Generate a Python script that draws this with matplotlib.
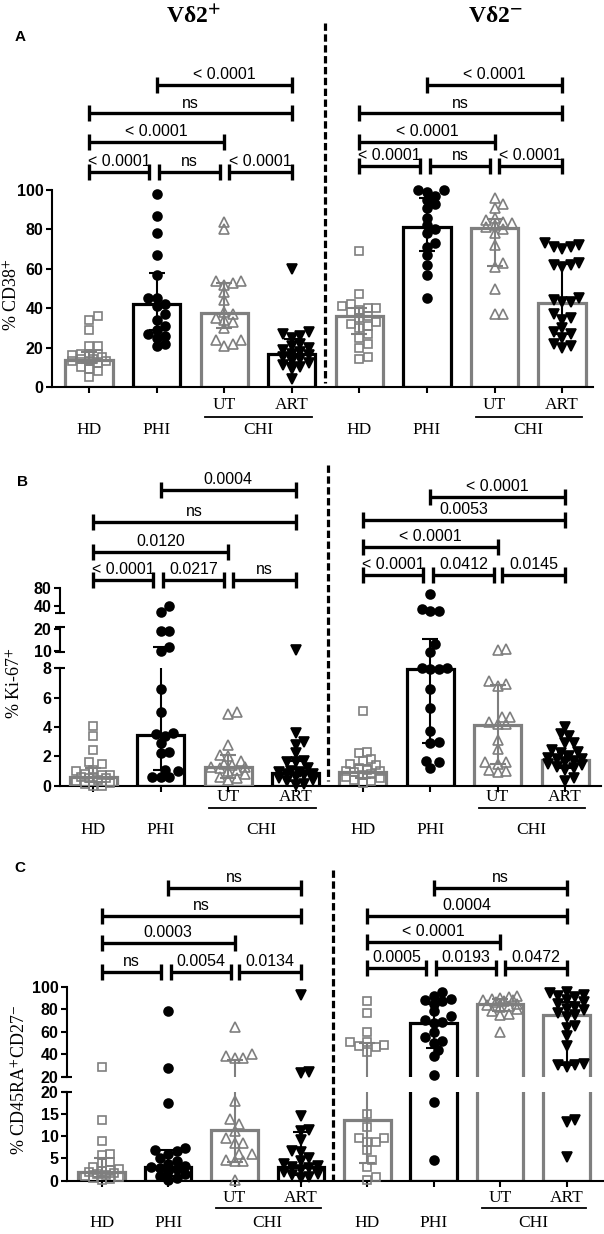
import numpy as np
import matplotlib
matplotlib.use('Agg')
import matplotlib.pyplot as plt
from matplotlib import transforms

plt.rcParams['font.family'] = 'Liberation Sans'
plt.rcParams['mathtext.fontset'] = 'stix'

W, H = 604, 1234
GRAY = '#7f7f7f'

# group order on the x axis: left half (Vd2+) then right half (Vd2-)
groups = ['HD', 'PHI', 'UT', 'ART', 'HD', 'PHI', 'UT', 'ART']
bar_cols = [GRAY, 'black', GRAY, 'black', GRAY, 'black', GRAY, GRAY]
err_cols = [GRAY, 'black', GRAY, 'black', GRAY, 'black', GRAY, 'black']

# panel A: % CD38+
a_hd = [36, 34, 29, 21, 21, 17, 17, 17, 16, 15, 14, 14, 13, 13, 13, 12, 10, 9, 8, 5]
a_phi = [98, 87, 78, 67, 57, 45, 45, 42, 41, 37, 34, 31, 29, 27, 26, 25, 22, 21]
a_ut = [84, 80, 54, 54, 53, 52, 48, 44, 38, 37, 35, 34, 33, 30, 24, 24, 22, 21]
a_art = [60, 28, 27, 26, 25, 22, 21, 20, 19, 18, 17, 16, 15, 14, 13, 12, 11, 10, 9, 4]
a_hd2 = [69, 47, 42, 41, 40, 40, 39, 38, 36, 35, 33, 32, 31, 30, 27, 25, 22, 20, 15, 14]
a_phi2 = [100, 100, 99, 97, 95, 93, 91, 86, 82, 80, 78, 73, 71, 67, 62, 57, 45]
a_ut2 = [96, 93, 91, 86, 85, 84, 83, 82, 81, 80, 78, 72, 63, 61, 50, 37, 37]
a_art2 = [73, 72, 71, 71, 70, 63, 62, 62, 61, 45, 44, 43, 43, 37, 35, 34, 30, 28, 27, 25, 22, 21, 20]
a_med = [13.7, 42.2, 37.6, 16.7, 35.9, 81.2, 80.7, 42.7]
a_q1 = [12, 29, 30, 12, 27, 69, 61.5, 27]
a_q3 = [18, 57.8, 53, 24.3, 40, 96, 85.5, 62.4]
a_p = ['< 0.0001', 'ns', '< 0.0001', '< 0.0001', 'ns', '< 0.0001',
       '< 0.0001', 'ns', '< 0.0001', '< 0.0001', 'ns', '< 0.0001']

# panel B: % Ki-67+
b_hd = [4.1, 3.4, 2.4, 1.6, 1.5, 1.1, 1.0, 0.8, 0.7, 0.7, 0.6, 0.6, 0.5, 0.5, 0.4, 0.3, 0.2, 0.1, 0.0, 0.0]
b_phi = [40, 27, 19, 19, 11.5, 10, 6.6, 5.0, 3.6, 3.5, 3.4, 2.9, 2.3, 2.2, 1.1, 1.0, 0.6, 0.6, 0.6]
b_ut = [5.0, 4.9, 2.8, 2.1, 2.0, 1.7, 1.5, 1.4, 1.3, 1.3, 1.2, 1.1, 1.0, 0.8, 0.6, 0.5, 0.4]
b_art = [10.3, 3.6, 3.0, 2.8, 2.2, 1.7, 1.6, 1.6, 1.2, 1.0, 0.9, 0.9, 0.8, 0.8, 0.7, 0.6, 0.5, 0.4, 0.3, 0.1, 0.05]
b_hd2 = [5.1, 2.3, 2.2, 1.8, 1.7, 1.5, 1.4, 1.2, 1.1, 1.0, 1.0, 0.9, 0.8, 0.7, 0.6, 0.5, 0.4, 0.3, 0.2]
b_phi2 = [13.0, 12.0, 11.9, 11.9, 9.6, 9.1, 8.0, 8.0, 7.9, 7.9, 6.6, 5.3, 3.7, 3.0, 2.9, 1.7, 1.6, 1.2]
b_ut2 = [9.3, 9.2, 7.1, 6.9, 6.8, 4.7, 4.7, 4.3, 4.2, 4.2, 3.1, 2.5, 1.6, 1.6, 1.5, 1.1, 1.0, 0.9]
b_art2 = [4.0, 3.5, 3.4, 2.9, 2.9, 2.4, 2.3, 2.2, 2.0, 1.9, 1.8, 1.8, 1.7, 1.6, 1.5, 1.4, 1.3, 1.2, 1.1, 0.5, 0.3]
b_med = [0.6, 3.45, 1.3, 0.85, 0.95, 7.9, 4.1, 1.75]
b_q1 = [0.25, 1.1, 0.5, 0.3, 0.5, 2.9, 1.5, 1.2]
b_q3 = [1.2, 11.9, 2.1, 1.7, 1.4, 10.0, 6.85, 2.3]
b_p = ['< 0.0001', '0.0217', 'ns', '0.0120', 'ns', '0.0004',
       '< 0.0001', '0.0412', '0.0145', '< 0.0001', '0.0053', '< 0.0001']

# panel C: % CD45RA+CD27-
c_hd = [29, 13.6, 8.9, 6.1, 5.8, 4.3, 3.9, 3.0, 2.6, 2.3, 2.1, 2.0, 1.8, 1.5, 1.2, 1.0, 0.8, 0.5, 0.3, 0.2]
c_phi = [78, 28, 17.5, 7.3, 6.9, 6.6, 5.9, 5.2, 4.5, 3.8, 3.3, 3.1, 2.9, 2.6, 2.1, 1.5, 1.0, 0.5, 0.2]
c_ut = [64, 40, 38, 37, 37, 17.8, 13.8, 12.7, 11.2, 9.5, 8.5, 8.4, 6.1, 5.9, 4.6, 4.5, 4.4, 0.2]
c_art = [93, 24.5, 23.5, 14.6, 11.4, 11.2, 9.1, 6.7, 6.5, 5.0, 4.5, 3.8, 3.2, 3.0, 2.8, 2.5, 2.0, 1.5, 1.2, 0.8, 0.5]
c_hd2 = [87, 77, 60, 51, 51, 48, 47, 46, 42, 15, 12, 9.5, 9.5, 8.8, 8.8, 7.0, 4.6, 3.1, 0.9, 0.2]
c_phi2 = [95, 92, 89, 88, 87, 85, 78, 74, 70, 69, 68, 60, 55, 52, 50, 44, 38, 21.5, 17.6, 4.6]
c_ut2 = [92, 91, 90, 89, 88, 88, 87, 86, 85, 84, 83, 82, 80, 78, 76, 75, 60]
c_art2 = [95, 94, 93, 92, 91, 88, 86, 85, 82, 80, 79, 77, 75, 73, 65, 63, 56, 47, 31, 30, 30, 29, 13.6, 13.2, 5.4]
c_med = [2.0, 3.1, 11.5, 3.0, 13.6, 67.4, 84.4, 75]
c_q1 = [0.9, 1.0, 4.3, 1.2, 3.9, 45.9, 78.5, 30.4]
c_q3 = [5.2, 6.9, 34.8, 11.0, 50, 84.4, 88.9, 86]
c_p = ['ns', '0.0054', '0.0134', '0.0003', 'ns', 'ns',
       '0.0005', '0.0193', '0.0472', '< 0.0001', '0.0004', 'ns']

# comparisons (within each half) and which bracket row they sit on
pairs = [(0, 0.89), (1.04, 1.94), (2.07, 3.0), (0, 2.0), (0, 3.0), (1.0, 3.0)]
rows = [0, 0, 0, 1, 2, 3]

MARK = {'HD': ('s', 'none', GRAY, 6.2),
        'PHI': ('o', 'black', 'black', 6.4),
        'UT': ('^', 'none', GRAY, 7.0),
        'ART': ('v', 'black', 'black', 7.0)}

fig = plt.figure(figsize=(W / 100, H / 100), dpi=100)


def make_axes(geo, y_top, y_bot):
    # geo = (left spine px, first tick px, tick spacing px, right end px)
    left, x0, step, right = geo
    ax = fig.add_axes([left / W, 1 - y_bot / H, (right - left) / W, (y_bot - y_top) / H])
    ax.set_xlim((left - x0) / step, (right - x0) / step)
    return ax


def style_axes(ax, ylim, bounds=None, ticks=None, bottom=False):
    ax.set_ylim(*ylim)
    ax.patch.set_visible(False)
    for s in ['top', 'right']:
        ax.spines[s].set_visible(False)
    ax.spines['bottom'].set_visible(bottom)
    ax.spines['bottom'].set_linewidth(1.5)
    ax.spines['left'].set_linewidth(1.5)
    if bottom:
        ax.set_xticks(np.arange(8))
        ax.set_xticklabels([])
        ax.tick_params(axis='x', direction='out', length=4, width=1.5)
    else:
        ax.set_xticks([])
    if bounds is None:
        ax.spines['left'].set_visible(False)
        ax.set_yticks([])
    else:
        ax.spines['left'].set_bounds(*bounds)
        ax.set_yticks(ticks)
        ax.tick_params(axis='y', direction='out', length=4, width=1.5, labelsize=11.5, pad=2)
        for t in ax.get_yticklabels():
            t.set_fontweight('bold')


def break_cap(ax, y):
    tr = transforms.blended_transform_factory(ax.transAxes, ax.transData)
    ax.plot([0], [y], marker='_', ms=7, mew=1.5, color='black', transform=tr, clip_on=False)


def seg_of(axs, v):
    for ax in axs:
        lo, hi = ax.get_ylim()
        if lo <= v <= hi:
            return ax
    return min(axs, key=lambda a: min(abs(v - a.get_ylim()[0]), abs(v - a.get_ylim()[1])))


def swarm(ypx, d=8.5, maxw=21.0):
    # simple beeswarm in pixels, kept inside +-maxw, overlapping when crowded
    cands = [0.0]
    k = 1
    while k * d * 0.5 <= maxw:
        cands += [k * d * 0.5, -k * d * 0.5]
        k += 1
    offs = np.zeros(len(ypx))
    done = []
    for i in np.argsort(ypx):
        best, best_gap = 0.0, -1
        for c in cands:
            gap = min([np.hypot(c - px, ypx[i] - py) for px, py in done] + [1e9])
            if gap >= 0.9 * d:
                best = c
                break
            if gap > best_gap:
                best, best_gap = c, gap
        offs[i] = best
        done.append((best, ypx[i]))
    return offs


def draw_group(axs, x, vals, med, lo, hi, kind, barcol, errcol):
    mk, mfc, mec, ms = MARK[kind]
    vals = np.asarray(vals, float)
    segs = [seg_of(axs, v) for v in vals]
    ypx = np.array([a.transData.transform((0, v))[1] for a, v in zip(segs, vals)])
    xpx = axs[0].transData.transform((1, 0))[0] - axs[0].transData.transform((0, 0))[0]
    offs = swarm(ypx) / xpx
    for ax in axs:
        ax.bar(x, med, 0.7, facecolor='none', edgecolor=barcol, linewidth=2.3, zorder=2)
        sel = [j for j in range(len(vals)) if segs[j] is ax]
        if sel:
            ax.plot(x + offs[sel], vals[sel], ls='none', marker=mk, ms=ms, mfc=mfc,
                    mec=mec, mew=1.2, clip_on=False, zorder=3)
        ax.errorbar(x, med, yerr=[[med - lo], [hi - med]], fmt='none', ecolor=errcol,
                    elinewidth=1.5, capsize=6, capthick=1.5, zorder=4)


def draw_panel(axs_left, axs_right, data, med, q1, q3):
    for i in range(8):
        axs = axs_left if i < 4 else axs_right
        draw_group(axs, i, data[i], med[i], q1[i], q3[i], groups[i], bar_cols[i], err_cols[i])


def brackets(ax, labels, ys_left, ys_right):
    ppu = ax.transData.transform((0, 1))[1] - ax.transData.transform((0, 0))[1]
    h = 8 / ppu
    for half in range(2):
        ys = ys_left if half == 0 else ys_right
        for j, (x1, x2) in enumerate(pairs):
            x1 += 4 * half
            x2 += 4 * half
            y = ys[rows[j]]
            kw = dict(color='black', lw=2.4, clip_on=False, solid_capstyle='butt')
            ax.plot([x1, x2], [y, y], **kw)
            ax.plot([x1, x1], [y - h, y + h], **kw)
            ax.plot([x2, x2], [y - h, y + h], **kw)
            ax.annotate(labels[6 * half + j], xy=((x1 + x2) / 2, y), xytext=(0, 2),
                        textcoords='offset points', ha='center', va='bottom', fontsize=11.5)


def under_labels(ax, y_sub, y_line, y_main):
    tr = transforms.blended_transform_factory(ax.transData, fig.transFigure)
    kw = dict(transform=tr, ha='center', va='center', family='Liberation Serif', fontsize=12.5)
    for half in range(2):
        o = 4 * half
        ax.text(o + 2, 1 - y_sub / H, 'UT', **kw)
        ax.text(o + 3, 1 - y_sub / H, 'ART', **kw)
        ax.plot([o + 1.72, o + 3.3], [1 - y_line / H] * 2, color='black', lw=1.3,
                transform=tr, clip_on=False)
        ax.text(o + 0, 1 - y_main / H, 'HD', **kw)
        ax.text(o + 1, 1 - y_main / H, 'PHI', **kw)
        ax.text(o + 2.5, 1 - y_main / H, 'CHI', **kw)


def divider(xp, y_top, y_bot):
    fig.add_artist(plt.Line2D([xp / W, xp / W], [1 - y_top / H, 1 - y_bot / H], color='black',
                              lw=2.3, linestyle=(0, (2.3, 1.1)), transform=fig.transFigure))


# ---- panel A ----
geoA = (52, 89.1, 67.57, 593)
axA = make_axes(geoA, 60, 387)
style_axes(axA, (0, 327 / 1.97), (0, 100), [0, 20, 40, 60, 80, 100], bottom=True)
draw_panel([axA], [axA], [a_hd, a_phi, a_ut, a_art, a_hd2, a_phi2, a_ut2, a_art2], a_med, a_q1, a_q3)
brackets(axA, a_p, [109.3, 124.5, 138.9, 153.3], [112.2, 124.5, 138.9, 153.3])
under_labels(axA, 405, 417, 430)
divider(325, 23, 383)

# ---- panel B: broken axis on the left half, linear on the right half ----
geoB = (60, 93.3, 67.4, 601)
axB = make_axes(geoB, 460, 785.7)
style_axes(axB, (0, 325.7 / 14.71), bottom=True)
b1 = make_axes(geoB, 668.3, 785.7)
style_axes(b1, (0, 8), (0, 8), [0, 2, 4, 6, 8])
b2 = make_axes(geoB, 626.7, 652.3)
style_axes(b2, (9.25, 21.2), (9.25, 21.2), [10, 20])
b3 = make_axes(geoB, 588.3, 613.3)
style_axes(b3, (23.5, 80), (23.5, 80), [40, 80])
break_cap(b1, 8)
break_cap(b2, 9.25)
break_cap(b2, 21.2)
break_cap(b3, 23.5)
draw_panel([b1, b2, b3], [axB], [b_hd, b_phi, b_ut, b_art, b_hd2, b_phi2, b_ut2, b_art2], b_med, b_q1, b_q3)
brackets(axB, b_p, [13.98, 15.91, 17.95, 20.1], [14.32, 16.25, 18.06, 19.65])
under_labels(axB, 797, 808, 830)
divider(328, 465, 781)

# ---- panel C: broken axis 0-20 / 20-100 ----
geoC = (67, 101.7, 66.4, 603)
c1 = make_axes(geoC, 1091.7, 1180.7)
style_axes(c1, (0, 20), (0, 20), [0, 5, 10, 15, 20], bottom=True)
c2 = make_axes(geoC, 870, 1076.7)
style_axes(c2, (20, 20 + 206.7 / 1.125), (20, 100), [20, 40, 60, 80, 100])
break_cap(c1, 20)
break_cap(c2, 20)
draw_panel([c1, c2], [c1, c2], [c_hd, c_phi, c_ut, c_art, c_hd2, c_phi2, c_ut2, c_art2], c_med, c_q1, c_q3)
brackets(c2, c_p, [113.3, 139.1, 162.8, 187.5], [116.4, 140.0, 162.8, 187.5])
under_labels(c1, 1198, 1208, 1223)
divider(333, 870, 1180)

# ---- titles, panel letters and y labels ----
hkw = dict(ha='center', va='center', family='Liberation Serif', fontweight='bold', fontsize=17)
fig.text(193 / W, 1 - 17 / H, 'Vδ2$^{\\mathbf{+}}$', **hkw)
fig.text(495 / W, 1 - 17 / H, 'Vδ2$^{\\mathbf{-}}$', **hkw)
for letter, (x, y) in zip('ABC', [(20, 37), (22, 482), (20, 868)]):
    fig.text(x / W, 1 - y / H, letter, ha='center', va='center', fontweight='bold', fontsize=11)
ykw = dict(ha='center', va='center', rotation=90, family='Liberation Serif', fontsize=13)
fig.text(12 / W, 1 - 295 / H, r'% CD38$^{+}$', **ykw)
fig.text(15 / W, 1 - 683 / H, r'% Ki-67$^{+}$', **ykw)
fig.text(20 / W, 1 - 1080 / H, r'% CD45RA$^{+}$CD27$^{-}$', **ykw)

fig.savefig('out.png', dpi=100)
